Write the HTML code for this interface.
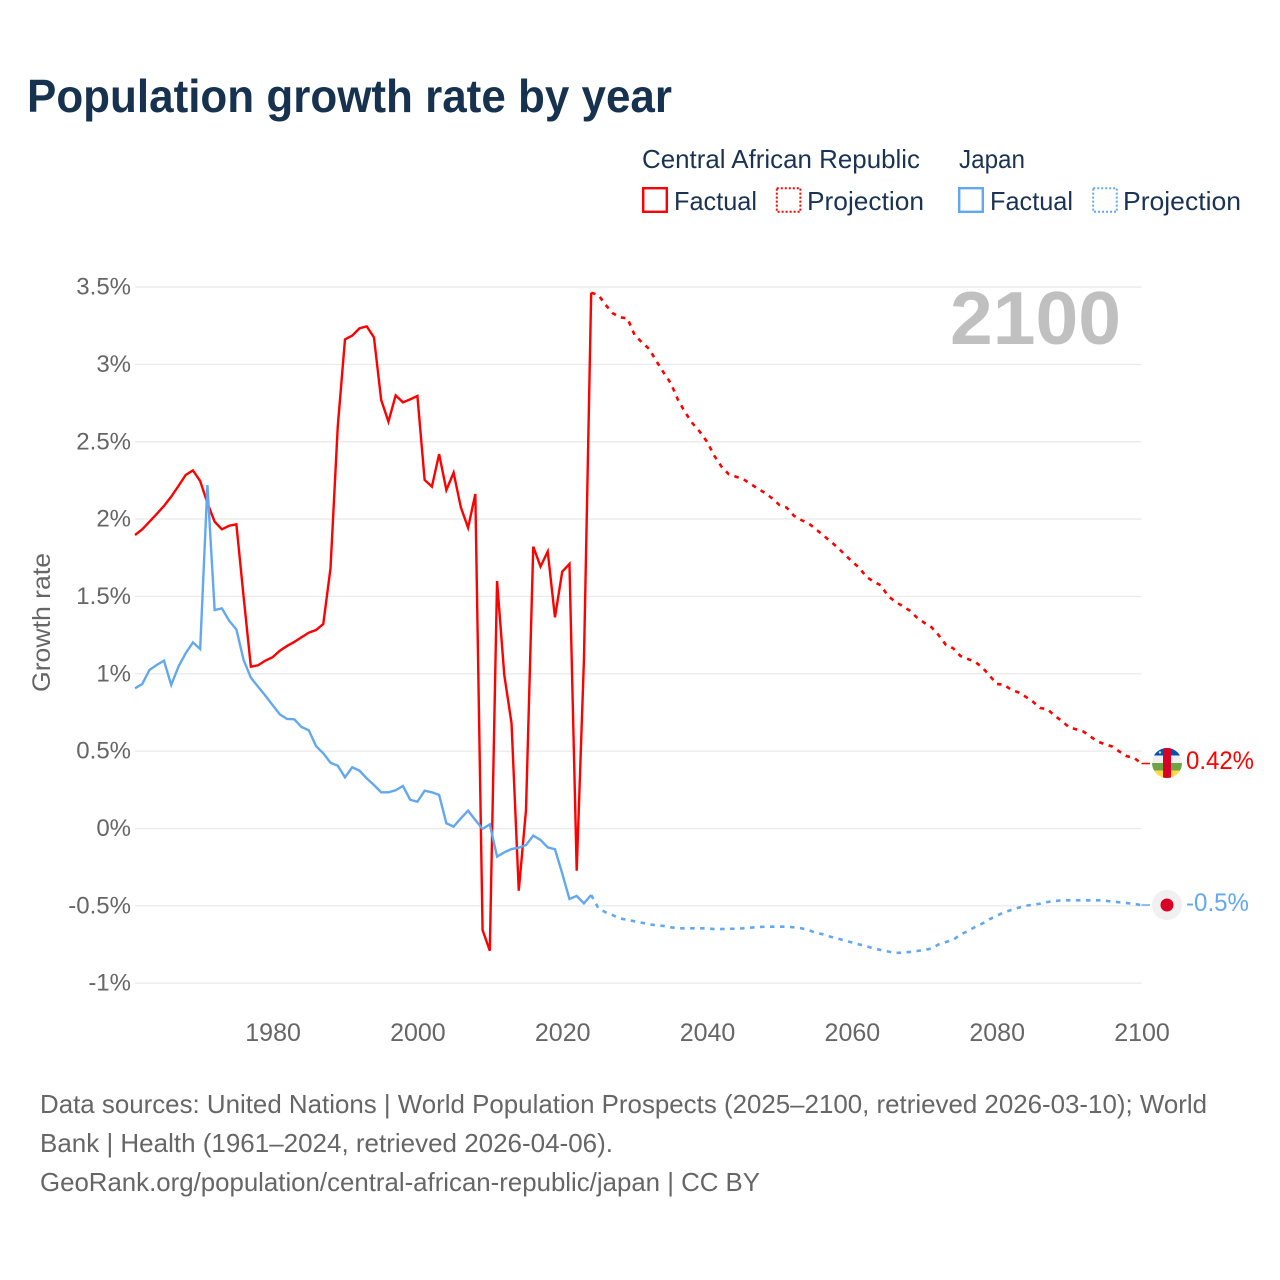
<!DOCTYPE html>
<html lang="en">
<head>
<meta charset="utf-8">
<title>Population growth rate by year</title>
<style>
  html, body { margin: 0; padding: 0; background: #ffffff; }
  svg { display: block; font-family: "Liberation Sans", sans-serif; }
</style>
</head>
<body>
<svg id="chart" width="1280" height="1280" viewBox="0 0 1280 1280" xmlns="http://www.w3.org/2000/svg">
  <rect x="0" y="0" width="1280" height="1280" fill="#ffffff"/>
  <text x="27" y="112" font-size="46" font-weight="700" fill="#17324f" textLength="645" lengthAdjust="spacingAndGlyphs">Population growth rate by year</text>

  <g font-size="26" fill="#1a3353">
    <text x="642" y="168" textLength="278" lengthAdjust="spacingAndGlyphs">Central African Republic</text>
    <text x="959" y="168" textLength="66" lengthAdjust="spacingAndGlyphs">Japan</text>
    <rect x="643.2" y="188.2" width="23.6" height="23.6" fill="none" stroke="#ff0000" stroke-width="2.4"/>
    <text x="674" y="210" textLength="83" lengthAdjust="spacingAndGlyphs">Factual</text>
    <rect x="776.8" y="188.2" width="23.6" height="23.6" fill="none" stroke="#ff0000" stroke-width="2" stroke-dasharray="2 2"/>
    <text x="807" y="210" textLength="117" lengthAdjust="spacingAndGlyphs">Projection</text>
    <rect x="959.2" y="188.2" width="23.6" height="23.6" fill="none" stroke="#63a8ee" stroke-width="2.4"/>
    <text x="990" y="210" textLength="83" lengthAdjust="spacingAndGlyphs">Factual</text>
    <rect x="1093.2" y="188.2" width="23.6" height="23.6" fill="none" stroke="#63a8ee" stroke-width="2" stroke-dasharray="2 2"/>
    <text x="1123" y="210" textLength="118" lengthAdjust="spacingAndGlyphs">Projection</text>
  </g>

  <g id="grid"></g>
  <g id="yticks"></g>
  <g id="xticks"></g>

  <text transform="translate(50,692) rotate(-90)" font-size="25" fill="#666666" textLength="139" lengthAdjust="spacingAndGlyphs">Growth rate</text>
  <text x="950" y="344" font-size="75" font-weight="700" fill="#c0c0c0" textLength="171" lengthAdjust="spacingAndGlyphs">2100</text>

  <g id="series"></g>

  <defs>
    <clipPath id="flagClip"><circle cx="1167" cy="763" r="15"/></clipPath>
  </defs>
  <g clip-path="url(#flagClip)">
    <rect x="1152" y="748" width="30" height="7.5" fill="#0052b4"/>
    <rect x="1152" y="755.5" width="30" height="7.5" fill="#f0f0f0"/>
    <rect x="1152" y="763" width="30" height="7.5" fill="#6da544"/>
    <rect x="1152" y="770.5" width="30" height="7.5" fill="#ffda44"/>
    <rect x="1163" y="748" width="8" height="30" fill="#d80027"/>
    <circle cx="1160" cy="752.5" r="1.2" fill="#ffda44"/>
  </g>
  <g>
    <circle cx="1167" cy="905" r="15" fill="#f0f0f0"/>
    <circle cx="1167" cy="905" r="6.5" fill="#d80027"/>
  </g>
  <text x="1186" y="769" font-size="25" fill="#ff0000" textLength="68" lengthAdjust="spacingAndGlyphs">0.42%</text>
  <text x="1186" y="911" font-size="25" fill="#63a8ee" textLength="63" lengthAdjust="spacingAndGlyphs">-0.5%</text>

  <g font-size="26" fill="#666666">
    <text x="40" y="1113" textLength="1167" lengthAdjust="spacingAndGlyphs">Data sources: United Nations | World Population Prospects (2025–2100, retrieved 2026-03-10); World</text>
    <text x="40" y="1152" textLength="573" lengthAdjust="spacingAndGlyphs">Bank | Health (1961–2024, retrieved 2026-04-06).</text>
    <text x="40" y="1191" textLength="720" lengthAdjust="spacingAndGlyphs">GeoRank.org/population/central-african-republic/japan | CC BY</text>
  </g>

<script>
var firstFactualYear = 1961;
var firstProjectionYear = 2024;
var yTickValues = [3.5, 3, 2.5, 2, 1.5, 1, 0.5, 0, -0.5, -1];
var yTickLabels = ["3.5%", "3%", "2.5%", "2%", "1.5%", "1%", "0.5%", "0%", "-0.5%", "-1%"];
var xTickYears = [1980, 2000, 2020, 2040, 2060, 2080, 2100];

var carFactual = [
  1.897, 1.934, 1.983, 2.033, 2.085, 2.145, 2.214, 2.285, 2.315, 2.246,
  2.104, 1.983, 1.934, 1.957, 1.966, 1.498, 1.046, 1.055, 1.085, 1.107,
  1.149, 1.180, 1.206, 1.236, 1.266, 1.283, 1.322, 1.682, 2.597, 3.162,
  3.186, 3.233, 3.246, 3.175, 2.770, 2.630, 2.800, 2.755, 2.774, 2.796,
  2.253, 2.210, 2.420, 2.188, 2.300, 2.076, 1.944, 2.162, -0.656, -0.790,
  1.600, 0.992, 0.680, -0.402, 0.120, 1.822, 1.693, 1.790, 1.365, 1.660,
  1.710, -0.273, 1.090, 3.463
];
var carProjection = [
  3.463, 3.449, 3.384, 3.330, 3.304, 3.298, 3.190, 3.143, 3.100, 3.022,
  2.947, 2.878, 2.770, 2.688, 2.619, 2.565, 2.500, 2.410, 2.339, 2.290,
  2.274, 2.259, 2.227, 2.198, 2.169, 2.134, 2.091, 2.074, 2.022, 1.994,
  1.973, 1.936, 1.897, 1.858, 1.818, 1.772, 1.727, 1.686, 1.628, 1.595,
  1.572, 1.503, 1.466, 1.438, 1.408, 1.363, 1.330, 1.301, 1.249, 1.186,
  1.165, 1.115, 1.096, 1.078, 1.042, 0.990, 0.934, 0.930, 0.897, 0.880,
  0.852, 0.820, 0.779, 0.772, 0.729, 0.695, 0.654, 0.641, 0.626, 0.593,
  0.561, 0.544, 0.529, 0.496, 0.467, 0.456, 0.420
];
var japanFactual = [
  0.906, 0.934, 1.025, 1.057, 1.085, 0.928, 1.046, 1.133, 1.203, 1.160,
  2.220, 1.412, 1.423, 1.343, 1.287, 1.089, 0.975, 0.916, 0.859, 0.798,
  0.738, 0.708, 0.706, 0.656, 0.635, 0.533, 0.486, 0.425, 0.406, 0.331,
  0.396, 0.374, 0.324, 0.281, 0.234, 0.234, 0.247, 0.275, 0.186, 0.173,
  0.244, 0.234, 0.217, 0.034, 0.012, 0.066, 0.115, 0.055, -0.003, 0.027,
  -0.182, -0.154, -0.133, -0.124, -0.107, -0.046, -0.074, -0.122, -0.134, -0.290,
  -0.456, -0.436, -0.484, -0.430
];
var japanProjection = [
  -0.430, -0.516, -0.542, -0.561, -0.581, -0.591, -0.600, -0.609, -0.619, -0.626,
  -0.630, -0.639, -0.645, -0.645, -0.645, -0.645, -0.645, -0.650, -0.650, -0.648,
  -0.648, -0.645, -0.641, -0.637, -0.635, -0.635, -0.635, -0.635, -0.639, -0.645,
  -0.656, -0.674, -0.684, -0.699, -0.710, -0.725, -0.736, -0.749, -0.760, -0.776,
  -0.785, -0.795, -0.805, -0.802, -0.798, -0.792, -0.785, -0.776, -0.749, -0.734,
  -0.719, -0.686, -0.663, -0.637, -0.615, -0.587, -0.564, -0.542, -0.527, -0.512,
  -0.499, -0.493, -0.486, -0.475, -0.469, -0.464, -0.464, -0.464, -0.464, -0.464,
  -0.464, -0.467, -0.473, -0.477, -0.482, -0.488, -0.495
];

var NS = "http://www.w3.org/2000/svg";
var plotLeft = 135, plotRight = 1141.5, zeroY = 828.5, pxPerUnit = 154.7;
var lastYear = 2100;

function xScale(year) {
  return plotLeft + (year - firstFactualYear) * (plotRight - plotLeft) / (lastYear - firstFactualYear);
}
function yScale(v) {
  return zeroY - v * pxPerUnit;
}
function linePath(values, startYear) {
  var d = "";
  for (var i = 0; i < values.length; i++) {
    d += (i ? "L" : "M") + xScale(startYear + i).toFixed(2) + " " + yScale(values[i]).toFixed(2);
  }
  return d;
}

var grid = document.getElementById("grid");
var yticks = document.getElementById("yticks");
var xticks = document.getElementById("xticks");
var seriesGroup = document.getElementById("series");

yTickValues.forEach(function (v, i) {
  var gl = document.createElementNS(NS, "line");
  
  
  gl.setAttribute("x1", plotLeft);
  gl.setAttribute("x2", plotRight);
  gl.setAttribute("y1", yScale(v));
  gl.setAttribute("y2", yScale(v));
  gl.setAttribute("stroke", "#ebebeb");
  gl.setAttribute("stroke-width", "1.4");
  grid.appendChild(gl);

  var t = document.createElementNS(NS, "text");
  
  
  t.setAttribute("x", 131);
  t.setAttribute("y", yScale(v) + 7.5);
  t.setAttribute("text-anchor", "end");
  t.setAttribute("font-size", "24");
  t.setAttribute("fill", "#666666");
  t.textContent = yTickLabels[i];
  yticks.appendChild(t);
});

xTickYears.forEach(function (yr) {
  var t = document.createElementNS(NS, "text");
  
  
  t.setAttribute("x", xScale(yr) + 0.5);
  t.setAttribute("y", 1041);
  t.setAttribute("text-anchor", "middle");
  t.setAttribute("font-size", "25");
  t.setAttribute("fill", "#666666");
  t.textContent = String(yr);
  xticks.appendChild(t);
});

var redFactualLine = document.createElementNS(NS, "path");


redFactualLine.setAttribute("d", linePath(carFactual, firstFactualYear));
redFactualLine.setAttribute("fill", "none");
redFactualLine.setAttribute("stroke", "#ff0000");
redFactualLine.setAttribute("stroke-width", "2.4");
redFactualLine.setAttribute("stroke-linejoin", "miter");
seriesGroup.appendChild(redFactualLine);

var redProjectionLine = document.createElementNS(NS, "path");


redProjectionLine.setAttribute("d", linePath(carProjection, firstProjectionYear));
redProjectionLine.setAttribute("fill", "none");
redProjectionLine.setAttribute("stroke", "#ff0000");
redProjectionLine.setAttribute("stroke-width", "2.6");
redProjectionLine.setAttribute("stroke-dasharray", "4.5 5.5");
seriesGroup.appendChild(redProjectionLine);

var redConnector = document.createElementNS(NS, "line");


redConnector.setAttribute("x1", plotRight);
redConnector.setAttribute("x2", 1150);
redConnector.setAttribute("y1", yScale(carProjection[carProjection.length - 1]));
redConnector.setAttribute("y2", yScale(carProjection[carProjection.length - 1]));
redConnector.setAttribute("stroke", "#ff0000");
redConnector.setAttribute("stroke-width", "1.5");
seriesGroup.appendChild(redConnector);

var blueFactualLine = document.createElementNS(NS, "path");


blueFactualLine.setAttribute("d", linePath(japanFactual, firstFactualYear));
blueFactualLine.setAttribute("fill", "none");
blueFactualLine.setAttribute("stroke", "#63a8ee");
blueFactualLine.setAttribute("stroke-width", "2.4");
seriesGroup.appendChild(blueFactualLine);

var blueProjectionLine = document.createElementNS(NS, "path");


blueProjectionLine.setAttribute("d", linePath(japanProjection, firstProjectionYear));
blueProjectionLine.setAttribute("fill", "none");
blueProjectionLine.setAttribute("stroke", "#63a8ee");
blueProjectionLine.setAttribute("stroke-width", "2.6");
blueProjectionLine.setAttribute("stroke-dasharray", "4.5 5.5");
seriesGroup.appendChild(blueProjectionLine);

var blueConnector = document.createElementNS(NS, "line");


blueConnector.setAttribute("x1", plotRight);
blueConnector.setAttribute("x2", 1150);
blueConnector.setAttribute("y1", yScale(japanProjection[japanProjection.length - 1]));
blueConnector.setAttribute("y2", yScale(japanProjection[japanProjection.length - 1]));
blueConnector.setAttribute("stroke", "#63a8ee");
blueConnector.setAttribute("stroke-width", "1.5");
seriesGroup.appendChild(blueConnector);
</script>
</svg>
</body>
</html>
